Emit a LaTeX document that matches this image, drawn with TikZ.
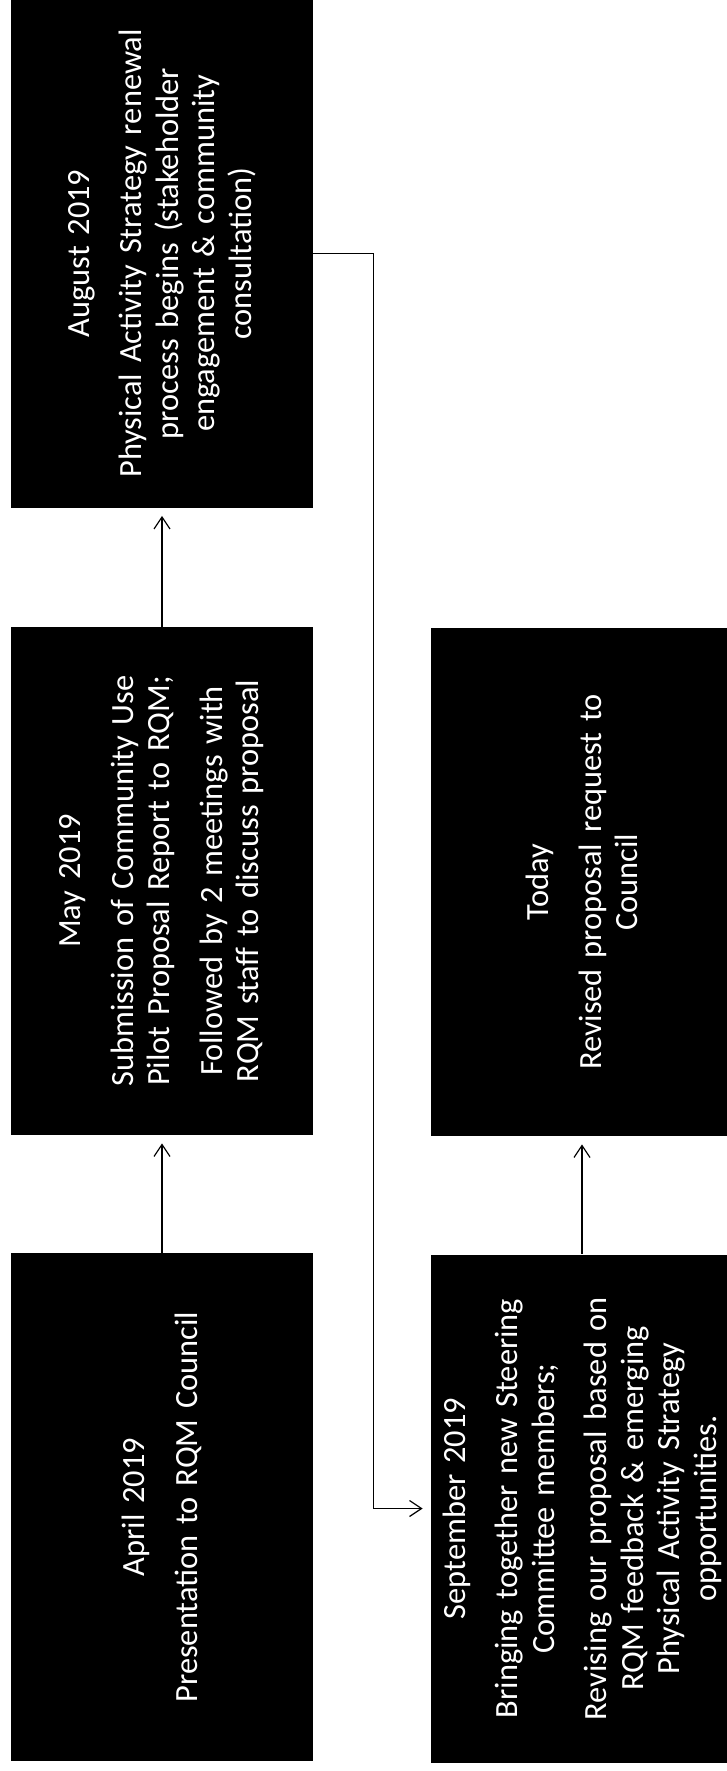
\documentclass[tikz,border=0pt]{standalone}
\usepackage{fontspec}
\setmainfont{Carlito}
\usetikzlibrary{arrows.meta}
\tikzset{
  card/.style={rotate=90, fill=black, text=white, minimum width=254pt, minimum height=151pt,
    inner sep=0pt, align=center, text width=252pt, font=\fontsize{16.2}{18.25}\selectfont},
  link/.style={draw=black, line width=0.6pt, -{Straight Barb[length=6pt,width=8pt]}, shorten >=4pt}
}
\begin{document}
\begin{tikzpicture}[x=0.5pt, y=-0.5pt]
\useasboundingbox (0,0) rectangle (727,1771);
\clip (0,0) rectangle (727,1771);
\node[card] (apr) at (162,1507) {April 2019\\[8pt]Presentation to RQM Council};
\node[card] (may) at (162,881) {May 2019\\[8pt]Submission of Community Use\\Pilot Proposal Report to RQM;\\[8pt]Followed by 2 meetings with\\RQM staff to discuss proposal};
\node[card] (aug) at (162,253.5) {August 2019\\[8pt]Physical Activity Strategy renewal\\process begins (stakeholder\\engagement \& community\\consultation)};
\node[card] (sep) at (582,1508.5) {September 2019\\[8pt]Bringing together new Steering\\Committee members;\\[8pt]Revising our proposal based on\\RQM feedback \& emerging\\Physical Activity Strategy\\opportunities.};
\node[card] (tod) at (582,882) {Today\\[8pt]Revised proposal request to\\Council};
\draw[link] (apr.east) -- (may.west);
\draw[link] (may.east) -- (aug.west);
\draw[link] (sep.east) -- (tod.west);
\draw[link] (aug.south) -- ++(60,0) |- (sep.north);
\end{tikzpicture}
\end{document}
